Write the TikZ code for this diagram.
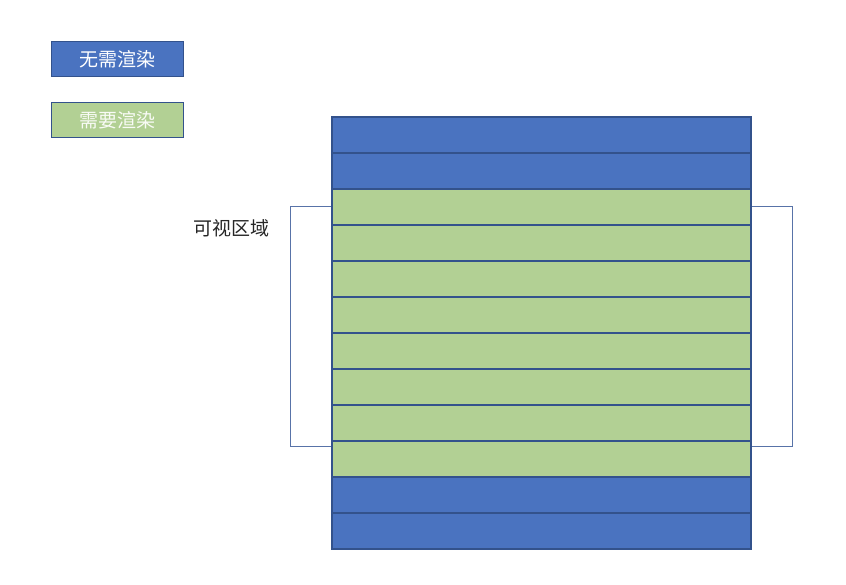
\documentclass[tikz,border=0pt]{standalone}
\usepackage{fontspec}
\setmainfont{Noto Sans CJK SC}
\begin{document}
\begin{tikzpicture}[x=1pt,y=-1pt,
  rowbox/.style={draw=rowedge,line width=2.2pt,minimum width=419pt,minimum height=36pt,inner sep=0pt,anchor=north west},
  norender/.style={fill=blueF},
  render/.style={fill=greenF},
  legend/.style={draw=rowedge,line width=1.2pt,minimum width=132pt,minimum height=35pt,inner sep=0pt,anchor=north west,text=white,font=\fontsize{19}{21}\selectfont},
  bracket/.style={draw=brk,line width=1pt}]
\definecolor{blueF}{HTML}{4A73C0}
\definecolor{greenF}{HTML}{B2D094}
\definecolor{rowedge}{HTML}{33528C}
\definecolor{brk}{HTML}{5873A8}
\useasboundingbox (0,0) rectangle (846,585);
% legend
\node[legend,fill=blueF] (lg1) at (51,41) {无需渲染};
\node[legend,fill=greenF,text=white!92!greenF] (lg2) at (51,102) {需要渲染};
% brackets
\coordinate (lt) at (290,207);
\coordinate (lb) at (290,446);
\coordinate (rt) at (792,207);
\coordinate (rb) at (792,446);
\draw[bracket] (331,207) -- (lt) -- (lb) -- (331,446);
\draw[bracket] (750,207) -- (rt) -- (rb) -- (750,446);
% rows
\node[rowbox,norender] (r1) at (331,116) {};
\node[rowbox,norender] (r2) at (331,152) {};
\node[rowbox,render] (r3) at (331,188) {};
\node[rowbox,render] (r4) at (331,224) {};
\node[rowbox,render] (r5) at (331,260) {};
\node[rowbox,render] (r6) at (331,296) {};
\node[rowbox,render] (r7) at (331,332) {};
\node[rowbox,render] (r8) at (331,368) {};
\node[rowbox,render] (r9) at (331,404) {};
\node[rowbox,render] (r10) at (331,440) {};
\node[rowbox,norender] (r11) at (331,476) {};
\node[rowbox,norender] (r12) at (331,512) {};
% label
\node[font=\fontsize{19}{21}\selectfont,text=black!85] (lbl) at (231,228) {可视区域};
\end{tikzpicture}
\end{document}
